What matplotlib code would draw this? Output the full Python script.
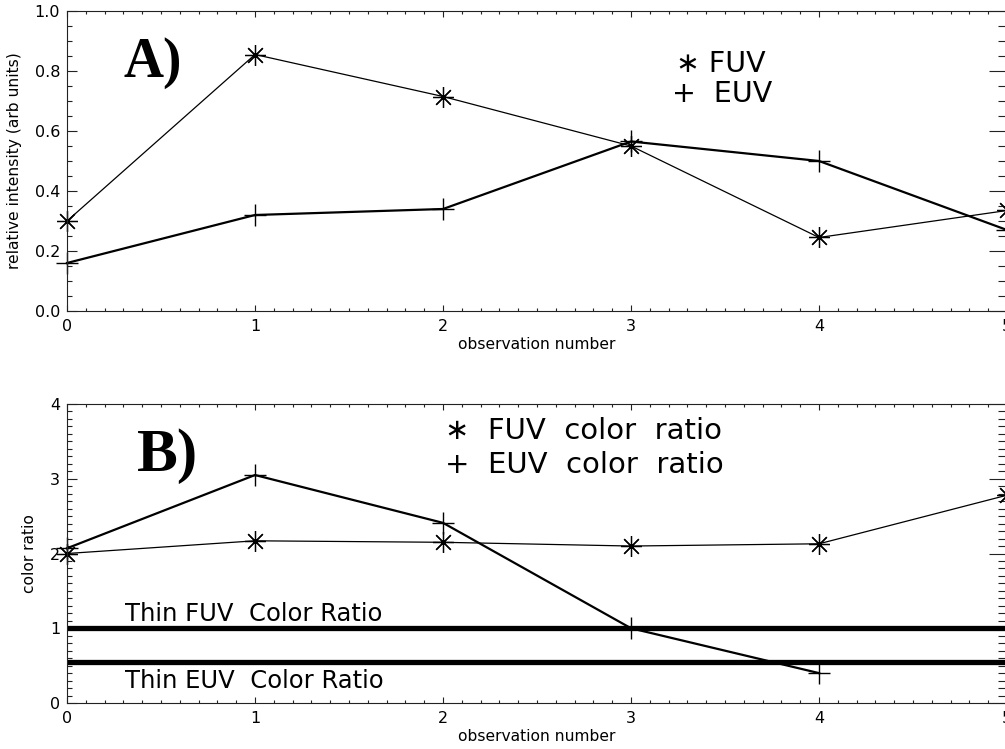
import numpy as np
import matplotlib.pyplot as plt
from matplotlib.ticker import MultipleLocator

# observation index and measured values
obs = [0, 1, 2, 3, 4, 5]
fuv_int = [0.30, 0.855, 0.715, 0.55, 0.245, 0.335]
euv_int = [0.16, 0.32, 0.34, 0.565, 0.50, 0.27]

obs_ratio_euv = [0, 1, 2, 3, 4]
fuv_ratio = [2.00, 2.17, 2.15, 2.10, 2.13, 2.78]
euv_ratio = [2.07, 3.05, 2.41, 1.00, 0.40]

thin_fuv = 1.0
thin_euv = 0.55

font = 'DejaVu Sans'

fig = plt.figure(figsize=(10.05, 7.49), dpi=100)
ax1 = fig.add_axes([0.0667, 0.5848, 0.9353, 0.4005])
ax2 = fig.add_axes([0.0667, 0.0614, 0.9353, 0.3992])

star = (8, 2, 0)


def style_axis(ax, ymin, ymax, ymaj, ymin_step):
    ax.set_xlim(0, 5)
    ax.set_ylim(ymin, ymax)
    ax.xaxis.set_major_locator(MultipleLocator(1))
    ax.xaxis.set_minor_locator(MultipleLocator(0.1))
    ax.yaxis.set_major_locator(MultipleLocator(ymaj))
    ax.yaxis.set_minor_locator(MultipleLocator(ymin_step))
    ax.tick_params(axis='both', which='both', direction='in',
                   top=True, right=True, width=0.8, color='#222222',
                   labelsize=11.5)
    ax.tick_params(axis='x', which='major', length=4.5, pad=6)
    ax.tick_params(axis='x', which='minor', length=2.2)
    ax.tick_params(axis='y', which='major', length=7.5, pad=5)
    ax.tick_params(axis='y', which='minor', length=3.8)
    # right-hand ticks are drawn longer
    for t in ax.yaxis.get_major_ticks():
        t.tick2line.set_markersize(13)
    for t in ax.yaxis.get_minor_ticks():
        t.tick2line.set_markersize(6.5)
    for sp in ax.spines.values():
        sp.set_linewidth(0.8)
        sp.set_color('#222222')
    ax.set_xlabel('observation number', fontsize=11.2, family=font,
                  labelpad=2)


# A) relative intensities
ax1.plot(obs, fuv_int, color='black', lw=0.9, marker=star, ms=15, mew=0.9,
         clip_on=False)
ax1.plot(obs, euv_int, color='black', lw=1.6, marker='+', ms=16, mew=1.0,
         clip_on=False)
style_axis(ax1, 0, 1, 0.2, 0.05)
ax1.yaxis.set_major_formatter(plt.FormatStrFormatter('%.1f'))
ax1.set_ylabel('relative intensity (arb units)', fontsize=11.2,
               family=font, labelpad=9)
ax1.text(0.298, 0.78, 'A)', fontsize=40, fontweight='bold',
         family='Liberation Serif')
ax1.text(3.24, 0.797, '\u2217 FUV', fontsize=20.5, family=font)
ax1.text(3.22, 0.697, '+  EUV', fontsize=20.5, family=font)

# B) color ratios
ax2.axhline(thin_fuv, color='black', lw=3.8)
ax2.axhline(thin_euv, color='black', lw=3.8)
ax2.plot(obs, fuv_ratio, color='black', lw=0.9, marker=star, ms=15, mew=0.9,
         clip_on=False)
ax2.plot(obs_ratio_euv, euv_ratio, color='black', lw=1.6, marker='+', ms=16,
         mew=1.0, clip_on=False)
style_axis(ax2, 0, 4, 1, 0.1)
ax2.set_ylabel('color ratio', fontsize=11.2, family=font, labelpad=9)
ax2.text(0.373, 3.107, 'B)', fontsize=44, fontweight='bold',
         family='Liberation Serif')
ax2.text(0.309, 1.093, 'Thin FUV  Color Ratio', fontsize=17.5, family=font)
ax2.text(0.309, 0.20, 'Thin EUV  Color Ratio', fontsize=17.5, family=font)
ax2.text(2.013, 3.53, '\u2217  FUV  color  ratio', fontsize=21, family=font)
ax2.text(2.013, 3.08, '+  EUV  color  ratio', fontsize=21, family=font)

fig.savefig('out.png', dpi=100)
